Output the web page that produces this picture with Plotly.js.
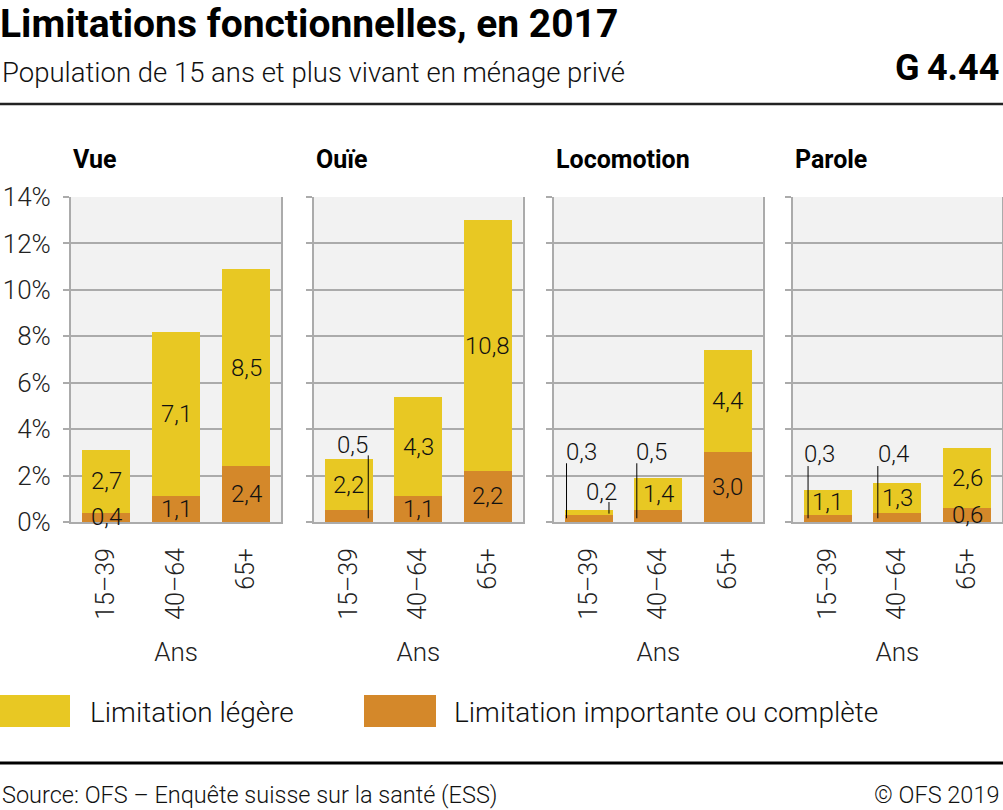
<!DOCTYPE html>
<html>
<head>
<meta charset="utf-8">
<script src="https://cdn.plot.ly/plotly-3.0.1.min.js"></script>
<style>html,body{margin:0;padding:0;background:#fff;}#chart{width:1003px;height:810px;}</style>
</head>
<body>
<div id="chart"></div>
<script>
// ---- Data ----
const panels = ['Vue', 'Ouïe', 'Locomotion', 'Parole'];
const ageGroups = ['15–39', '40–64', '65+'];
const seriesNames = ['Limitation légère', 'Limitation importante ou complète'];
const vueImportante = [0.4, 1.1, 2.4];
const vueLegere = [2.7, 7.1, 8.5];
const ouieImportante = [0.5, 1.1, 2.2];
const ouieLegere = [2.2, 4.3, 10.8];
const locoImportante = [0.3, 0.5, 3.0];
const locoLegere = [0.2, 1.4, 4.4];
const paroleImportante = [0.3, 0.4, 0.6];
const paroleLegere = [1.1, 1.3, 2.6];
const yTicks = [0, 2, 4, 6, 8, 10, 12, 14];

const importante = [vueImportante, ouieImportante, locoImportante, paroleImportante];
const legere = [vueLegere, ouieLegere, locoLegere, paroleLegere];

// ---- Style ----
const YELLOW = '#E8C823';
const ORANGE = '#D4882A';
const GRID = '#ABABAB';
const FONT = 'Roboto, "Noto Sans", sans-serif';
const W = 1003, H = 810;
const M = {l: 71, r: 1, t: 197, b: 288};
const PW = W - M.l - M.r, PH = H - M.t - M.b;
const px2x = p => (p - M.l) / PW;
const px2y = p => (H - M.b - p) / PH;
const domains = [[0, 0.2256], [0.2610, 0.4852], [0.5188, 0.7430], [0.7752, 1]];

// callouts for small segments (label placement, in axis units relative to category)
const callouts = [
  {panel: 1, cat: 0, s: 'imp', tx: 0.06, ty: 3.3, lx: 0.28, ly0: 0.16, ly1: 2.87},
  {panel: 2, cat: 0, s: 'imp', tx: -0.10, ty: 3.02, lx: -0.32, ly0: 0.16, ly1: 2.53},
  {panel: 2, cat: 0, s: 'leg', tx: 0.18, ty: 1.29, lx: 0.29, ly0: 0.36, ly1: 0.86},
  {panel: 2, cat: 1, s: 'imp', tx: -0.10, ty: 3.02, lx: -0.31, ly0: 0.16, ly1: 2.53},
  {panel: 3, cat: 0, s: 'imp', tx: -0.11, ty: 2.95, lx: -0.28, ly0: 0.16, ly1: 2.41},
  {panel: 3, cat: 1, s: 'imp', tx: -0.06, ty: 2.95, lx: -0.28, ly0: 0.16, ly1: 2.41}
];

const fmt = v => v.toFixed(1).replace('.', ',');
const labelFont = {family: FONT, size: 24, color: '#111', weight: 300};

const traces = [];
const annotations = [];
const shapes = [];
const layout = {
  width: W, height: H,
  margin: M,
  paper_bgcolor: '#fff',
  plot_bgcolor: '#F2F2F2',
  barmode: 'stack',
  bargap: 0.31,
  showlegend: false,
  font: {family: FONT, color: '#222'},
  title: {
    text: 'Limitations fonctionnelles, en 2017',
    font: {family: FONT, size: 39, color: '#000', weight: 700},
    xref: 'container', x: 0, xanchor: 'left',
    yref: 'container', y: 1 - 23 / H, yanchor: 'middle'
  }
};

panels.forEach((name, i) => {
  const sfx = i === 0 ? '' : String(i + 1);
  const xa = 'x' + sfx, ya = 'y' + sfx;
  traces.push({
    type: 'bar', x: ageGroups, y: importante[i], name: seriesNames[1],
    marker: {color: ORANGE}, xaxis: xa, yaxis: ya, hoverinfo: 'skip'
  });
  traces.push({
    type: 'bar', x: ageGroups, y: legere[i], name: seriesNames[0],
    marker: {color: YELLOW}, xaxis: xa, yaxis: ya, hoverinfo: 'skip'
  });
  layout['xaxis' + sfx] = {
    domain: domains[i], anchor: ya, type: 'category', range: [-0.5, 2.5],
    tickangle: -90, ticks: '', ticklabelstandoff: 14,
    tickfont: {family: FONT, size: 25, color: '#222', weight: 300},
    showline: true, linecolor: GRID, linewidth: 2, showgrid: false, zeroline: false,
    title: {text: 'Ans', font: {family: FONT, size: 26, color: '#222', weight: 300}, standoff: 24},
    fixedrange: true
  };
  layout['yaxis' + sfx] = {
    domain: [0, 1], anchor: xa, range: [0, 14], tickvals: yTicks,
    ticktext: yTicks.map(v => v + '%'), showticklabels: i === 0,
    ticks: 'outside', ticklen: 6, tickwidth: 2, tickcolor: GRID, ticklabelstandoff: 7,
    tickfont: {family: FONT, size: 26, color: '#222', weight: 300},
    showgrid: true, gridcolor: GRID, gridwidth: 2, zeroline: false,
    showline: true, linecolor: GRID, linewidth: 2, mirror: true,
    fixedrange: true
  };
  // panel title
  annotations.push({
    text: '<b>' + name + '</b>', xref: xa + ' domain', yref: ya + ' domain',
    x: 0, y: 1 + (197 - 159) / PH, xanchor: 'left', yanchor: 'middle', showarrow: false,
    font: {family: FONT, size: 25, color: '#000', weight: 700}
  });
  // value labels
  ageGroups.forEach((g, c) => {
    const imp = importante[i][c], leg = legere[i][c];
    const cImp = callouts.find(o => o.panel === i && o.cat === c && o.s === 'imp');
    const cLeg = callouts.find(o => o.panel === i && o.cat === c && o.s === 'leg');
    [[imp, 0, cImp], [leg, imp, cLeg]].forEach(([v, base, co]) => {
      if (co) {
        annotations.push({text: fmt(v), xref: xa, yref: ya, x: c + co.tx, y: co.ty,
          showarrow: false, xanchor: 'center', yanchor: 'middle', font: labelFont});
        shapes.push({type: 'line', xref: xa, yref: ya, x0: c + co.lx, x1: c + co.lx,
          y0: co.ly0, y1: co.ly1, line: {color: '#000', width: 1}});
      } else {
        annotations.push({text: fmt(v), xref: xa, yref: ya, x: c, y: base + v / 2,
          showarrow: false, xanchor: 'center', yanchor: 'middle', font: labelFont});
      }
    });
  });
});

// header / footer texts
annotations.push({text: 'Population de 15 ans et plus vivant en ménage privé', xref: 'paper', yref: 'paper',
  x: px2x(0), y: px2y(73), xanchor: 'left', yanchor: 'middle', showarrow: false,
  font: {family: FONT, size: 27.5, color: '#111', weight: 300}});
annotations.push({text: '<b>G\u20094.44</b>', xref: 'paper', yref: 'paper',
  x: px2x(1001), y: px2y(68), xanchor: 'right', yanchor: 'middle', showarrow: false,
  font: {family: FONT, size: 36, color: '#000', weight: 700}});
annotations.push({text: 'Source: OFS – Enquête suisse sur la santé (ESS)', xref: 'paper', yref: 'paper',
  x: px2x(0), y: px2y(795), xanchor: 'left', yanchor: 'middle', showarrow: false,
  font: {family: FONT, size: 23.5, color: '#111', weight: 300}});
annotations.push({text: '© OFS 2019', xref: 'paper', yref: 'paper',
  x: px2x(1001), y: px2y(795), xanchor: 'right', yanchor: 'middle', showarrow: false,
  font: {family: FONT, size: 23.5, color: '#111', weight: 300}});

// legend (custom, large swatches)
const legendItems = [
  {name: seriesNames[0], color: YELLOW, bx0: 0, bx1: 70, tx: 88},
  {name: seriesNames[1], color: ORANGE, bx0: 364, bx1: 436, tx: 452}
];
legendItems.forEach(it => {
  shapes.push({type: 'rect', xref: 'paper', yref: 'paper', x0: px2x(it.bx0), x1: px2x(it.bx1),
    y0: px2y(727), y1: px2y(695), fillcolor: it.color, line: {width: 0}});
  annotations.push({text: it.name, xref: 'paper', yref: 'paper', x: px2x(it.tx), y: px2y(712),
    xanchor: 'left', yanchor: 'middle', showarrow: false,
    font: {family: FONT, size: 28, color: '#111', weight: 300}});
});

// rules
shapes.push({type: 'line', xref: 'paper', yref: 'paper', x0: px2x(0), x1: px2x(1003),
  y0: px2y(104), y1: px2y(104), line: {color: '#222', width: 2.5}});
shapes.push({type: 'line', xref: 'paper', yref: 'paper', x0: px2x(0), x1: px2x(1003),
  y0: px2y(763), y1: px2y(763), line: {color: '#000', width: 3}});

layout.annotations = annotations;
layout.shapes = shapes;

Plotly.newPlot('chart', traces, layout, {displayModeBar: false, staticPlot: true});
</script>
</body>
</html>
